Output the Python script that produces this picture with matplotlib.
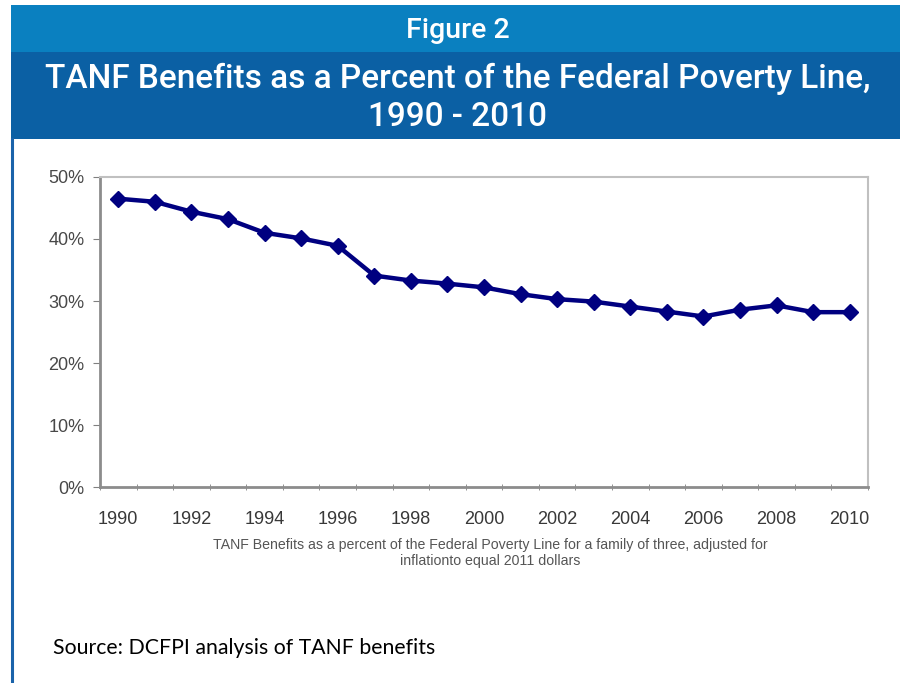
import matplotlib

matplotlib.use('Agg')
import matplotlib.pyplot as plt
from matplotlib.patches import Rectangle
from matplotlib.lines import Line2D
from matplotlib.ticker import FuncFormatter

# -----------------------------
# Data
# -----------------------------
years = list(range(1990, 2011))
pct_of_fpl = [46.5, 46.0, 44.4, 43.2, 41.0, 40.1, 38.9, 34.1, 33.3, 32.8, 32.2,
              31.1, 30.3, 29.9, 29.1, 28.3, 27.5, 28.6, 29.3, 28.2, 28.2]
year_labels = [str(y) if y % 2 == 0 else "" for y in years]

header_text = "Figure 2"
title_text = "TANF Benefits as a Percent of the Federal Poverty Line,\n1990 - 2010"
note_text = ("TANF Benefits as a percent of the Federal Poverty Line for a family of three, adjusted for\n"
             "inflationto equal 2011 dollars")
source_text = "Source: DCFPI analysis of TANF benefits"

W, H = 900, 683
fig = plt.figure(figsize=(W / 100, H / 100), dpi=100)


def fx(px):
    return px / W


def fy(py):
    return 1 - py / H


# -----------------------------
# Header bands and border
# -----------------------------
fig.patches.append(Rectangle((fx(11), fy(52)), fx(900 - 11), (52 - 5) / H,
                             transform=fig.transFigure, facecolor="#0a80c0", edgecolor="none"))
fig.patches.append(Rectangle((fx(11), fy(139)), fx(900 - 11), (139 - 52) / H,
                             transform=fig.transFigure, facecolor="#0b60a4", edgecolor="none"))
fig.lines.append(Line2D([fx(12), fx(12)], [fy(139), 0], transform=fig.transFigure,
                        color="#1a63aa", linewidth=2.2))

fig.text(fx(458), fy(30), header_text, ha='center', va='center', color='white',
         fontsize=20.5, fontweight='medium', family=['Roboto', 'DejaVu Sans'])
fig.text(fx(458), fy(98), title_text, ha='center', va='center', color='white',
         fontsize=24, linespacing=1.22, fontweight='medium', family=['Roboto', 'DejaVu Sans'])

# -----------------------------
# Chart
# -----------------------------
ax = fig.add_axes([fx(100), fy(487), fx(868 - 100), (487 - 177) / H])
ax.plot(years, pct_of_fpl, color="#000080", linewidth=3.2, marker='D', markersize=8,
        markerfacecolor="#000080", markeredgecolor="#000080")

ax.set_xlim(1989.5, 2010.5)
ax.set_ylim(0, 50)
ax.set_yticks([0, 10, 20, 30, 40, 50])
ax.yaxis.set_major_formatter(FuncFormatter(lambda v, _: f"{int(v)}%"))
ax.set_xticks(years)
ax.set_xticklabels(year_labels)
ax.set_xticks([y + 0.5 for y in [1989] + years], minor=True)
ax.tick_params(axis='x', which='major', length=0, pad=17, labelsize=13, labelcolor="#383838")
ax.tick_params(axis='x', which='minor', length=5, direction='inout', color="#808080")
ax.tick_params(axis='y', length=5, direction='out', color="#808080", labelsize=13,
               labelcolor="#484848", pad=6)
for lab in ax.get_xticklabels() + ax.get_yticklabels():
    lab.set_family('Liberation Sans')

for side in ['left', 'bottom']:
    ax.spines[side].set_color("#8c8c8c")
    ax.spines[side].set_linewidth(2)
for side in ['top', 'right']:
    ax.spines[side].set_color("#c0c0c0")
    ax.spines[side].set_linewidth(1.5)

fig.text(fx(490), fy(553), note_text, ha='center', va='center', color="#555555",
         fontsize=10.2, linespacing=1.15, family='Liberation Sans')

fig.text(fx(53), fy(648), source_text, ha='left', va='center', color='black',
         fontsize=15.3, family=['Lato', 'DejaVu Sans'])

plt.savefig('out.png', dpi=100)
plt.close('all')
